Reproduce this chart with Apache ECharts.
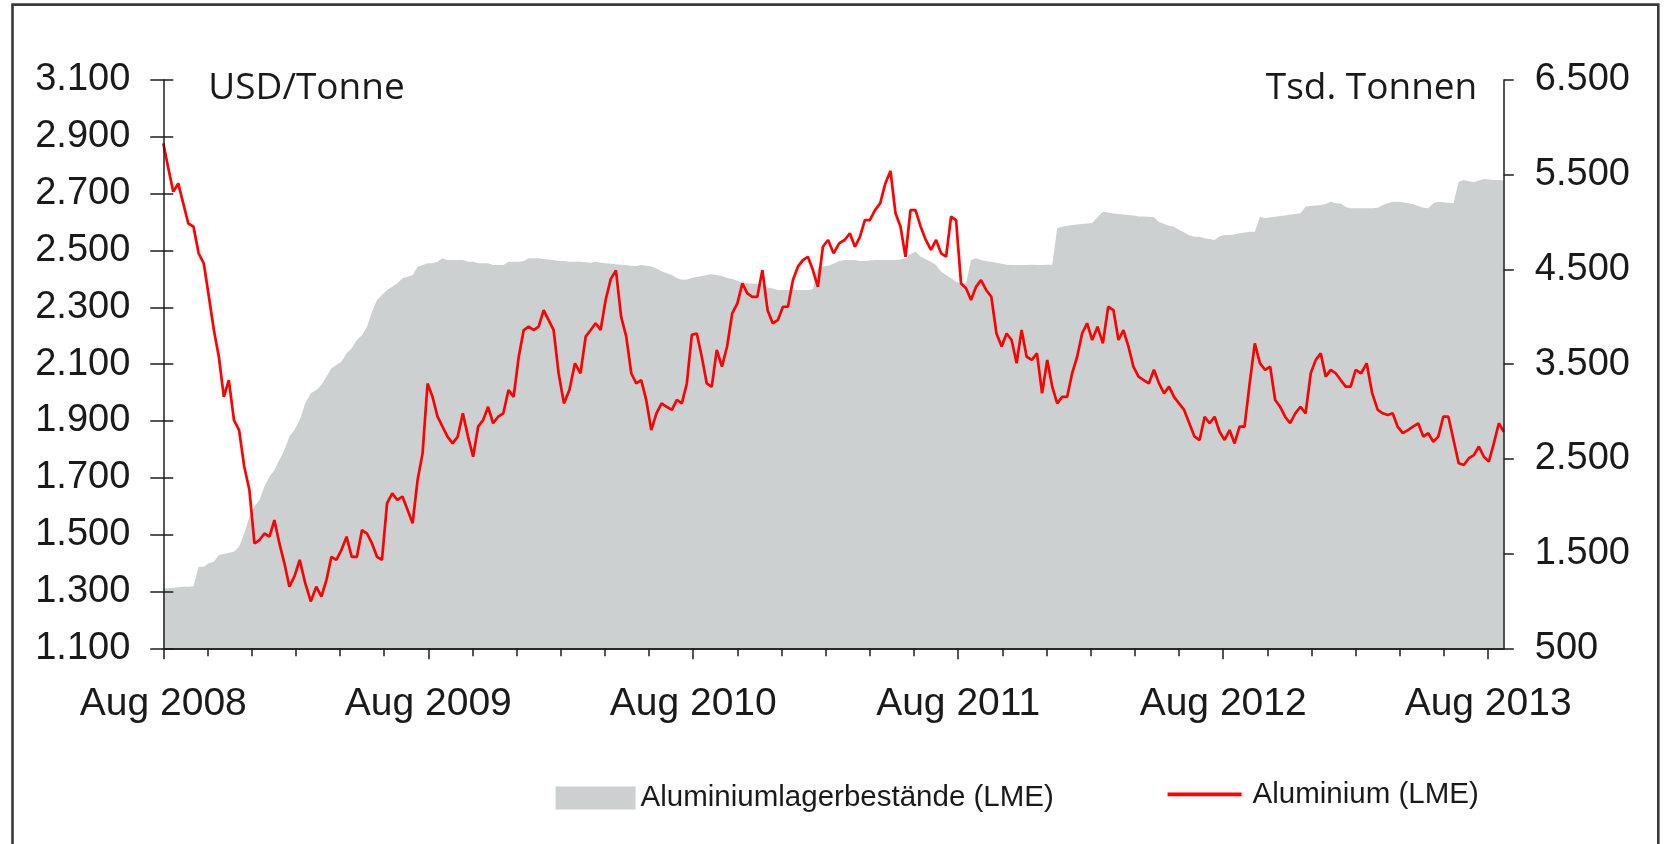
<!DOCTYPE html>
<html>
<head>
<meta charset="utf-8">
<script src="https://cdn.jsdelivr.net/npm/echarts@6/dist/echarts.min.js"></script>
<style>
html,body{margin:0;padding:0;background:#fff;}
#chart{width:1669px;height:844px;}
</style>
</head>
<body>
<div id="chart"></div>
<script>
// ---- data, weekly samples from startDate ----
const startDate = '2008-08-01';
const stepDays = 7;
const yearTickLabels = ['Aug 2008','Aug 2009','Aug 2010','Aug 2011','Aug 2012','Aug 2013'];
const leftUnit = 'USD/Tonne';
const rightUnit = 'Tsd. Tonnen';
const seriesNames = ['Aluminiumlagerbestände (LME)', 'Aluminium (LME)'];

// Aluminium (LME), USD/Tonne
const priceUSD = [
 2877,2790,2707,2736,2666,2595,2584,2490,2455,2337,
 2220,2126,1985,2044,1903,1868,1739,1657,1469,1481,
 1504,1493,1551,1469,1399,1317,1352,1411,1329,1265,
 1317,1282,1340,1422,1411,1446,1493,1422,1422,1516,
 1504,1469,1422,1411,1610,1645,1622,1634,1587,1540,
 1692,1786,2032,1985,1915,1880,1845,1821,1845,1927,
 1845,1774,1880,1903,1950,1892,1915,
 1927,2009,1985,2126,2220,2232,2220,2232,2290,2255,
 2220,2068,1962,2009,2103,2068,2197,2220,2244,2220,
 2326,2400,2430,2267,2197,2068,2032,2044,1974,1868,
 1927,1962,1950,1939,1974,1962,2032,2203,2208,2126,
 2032,2020,2150,2091,2162,2279,2314,2384,2349,2337,
 2337,2431,2290,2244,2255,2302,2302,2396,2443,2466,
 2478,2431,2372,2513,2537,2490,
 2525,2537,2560,2513,2548,2607,2607,2642,2666,2736,
 2780,2631,2584,2478,2642,2642,2584,2537,2502,2537,
 2490,2478,2619,2607,2384,2367,2326,2372,2396,2361,
 2337,2208,2162,2208,2185,2103,2220,2126,2115,2138,
 1997,2115,2021,1962,1985,1985,2068,2126,2208,2244,
 2185,2232,2173,2302,2290,2185,2220,2162,2091,2056,
 2044,2032,2080,2032,1997,2021,
 1985,1962,1939,1892,1845,1833,1915,1892,1915,1862,
 1833,1868,1821,1880,1880,2032,2173,2103,2080,2091,
 1974,1950,1915,1892,1927,1950,1927,2068,2115,2138,
 2056,2080,2068,2044,2021,2021,2080,2068,2103,1997,
 1939,1927,1921,1927,1880,1857,1868,1880,1892,1845,
 1857,1827,1845,1915,1915,1833,1751,1745,1769,1780,
 1810,1774,1757,1821,1892,1862
];

// Aluminiumlagerbestände (LME), Tsd. Tonnen
const stocksKt = [
 1134,1134,1140,1145,1150,1150,1155,1362,1362,1397,
 1415,1485,1496,1510,1520,1573,1714,1890,1996,2066,
 2207,2312,2383,2488,2594,2735,2805,2910,3086,3192,
 3227,3280,3368,3456,3491,3526,3614,3667,3755,3808,
 3896,4054,4177,4230,4283,4318,4353,4406,4424,4441,
 4529,4547,4564,4564,4582,4617,4600,4600,4600,4600,
 4582,4582,4564,4564,4564,4547,4547,
 4547,4582,4582,4582,4590,4617,4617,4617,4610,4605,
 4600,4590,4590,4582,4582,4582,4575,4570,4582,4570,
 4564,4560,4555,4550,4547,4540,4535,4547,4540,4530,
 4510,4480,4460,4440,4410,4390,4395,4410,4420,4430,
 4440,4450,4440,4430,4410,4400,4380,4360,4355,4350,
 4350,4330,4310,4300,4283,4283,4283,4283,4283,4283,
 4283,4290,4520,4530,4540,4560,
 4590,4600,4600,4600,4590,4590,4595,4600,4600,4600,
 4600,4600,4605,4617,4663,4688,4635,4607,4582,4547,
 4476,4441,4406,4371,4353,4353,4600,4617,4600,4590,
 4580,4570,4560,4550,4547,4547,4547,4547,4550,4547,
 4547,4550,4550,4934,4950,4960,4970,4975,4980,4985,
 4990,5050,5110,5100,5090,5085,5080,5075,5070,5060,
 5060,5055,5050,5000,4980,4960,
 4951,4920,4890,4860,4846,4846,4830,4820,4811,4850,
 4863,4863,4870,4881,4890,4899,4899,5057,5040,5050,
 5057,5065,5070,5080,5085,5092,5163,5170,5175,5180,
 5190,5215,5200,5195,5160,5145,5145,5145,5145,5145,
 5150,5180,5200,5215,5215,5210,5200,5190,5170,5150,
 5145,5200,5215,5210,5205,5200,5427,5444,5430,5420,
 5440,5455,5450,5445,5445,5440
];

// ---- helpers ----
const start = new Date(startDate + 'T00:00:00Z');
function sampleDate(i){ return new Date(start.getTime() + i * stepDays * 86400000); }
// position on the axis in months since the first month (Aug 2008)
function monthPos(d){
  const y = d.getUTCFullYear(), m = d.getUTCMonth(), day = d.getUTCDate();
  const dim = new Date(Date.UTC(y, m + 1, 0)).getUTCDate();
  return (y - start.getUTCFullYear()) * 12 + (m - start.getUTCMonth()) + (day - 1) / dim;
}
const xs = priceUSD.map((_, i) => monthPos(sampleDate(i)));
const xMax = xs[xs.length - 1];
const lastLabelPos = (yearTickLabels.length - 1) * 12;
function fmt(v){ return String(v).replace(/\B(?=(\d{3})+(?!\d))/g, '.'); }

// ---- layout ----
const plotLeft = 163.3, plotRight = 1503.8, plotTop = 80, plotBottom = 648.3;
const plotW = plotRight - plotLeft, plotH = plotBottom - plotTop;
const axisColor = '#1e1e1e';
const labelFont = '"Liberation Sans", Arial, sans-serif';
const titleFont = '"Open Sans", "Noto Sans", sans-serif';

const chart = echarts.init(document.getElementById('chart'), null, {renderer: 'canvas'});
const option = {
  animation: false,
  backgroundColor: '#ffffff',
  grid: [
    {left: plotLeft, top: plotTop, width: plotW, height: plotH, outerBoundsMode: 'none'},
    {left: plotLeft, top: plotTop, width: plotW * lastLabelPos / xMax, height: plotH, outerBoundsMode: 'none'}
  ],
  xAxis: [
    {gridIndex: 0, type: 'value', min: 0, max: xMax, z: 5,
     axisLine: {show: true, lineStyle: {color: '#2a2a2a', width: 2.2}},
     axisTick: {show: false}, axisLabel: {show: false}, splitLine: {show: false}},
    {gridIndex: 1, type: 'value', min: 0, max: lastLabelPos, interval: 12, z: 5,
     axisLine: {show: false},
     axisTick: {show: true, length: 11, lineStyle: {color: axisColor, width: 1.5}},
     minorTick: {show: true, splitNumber: 6, length: 8, lineStyle: {color: axisColor, width: 1.5}},
     axisLabel: {show: true, margin: 36, fontSize: 39, color: '#1a1a1a', fontFamily: labelFont,
       formatter: v => yearTickLabels[Math.round(v / 12)] || ''},
     splitLine: {show: false}, minorSplitLine: {show: false}}
  ],
  yAxis: [
    {gridIndex: 0, type: 'value', position: 'left', min: 1100, max: 3100, interval: 200, z: 5,
     axisLine: {show: true, lineStyle: {color: axisColor, width: 1.5}},
     axisTick: {show: true, inside: false, length: 13, lineStyle: {color: axisColor, width: 1.5}},
     axisLabel: {show: true, margin: 33, fontSize: 38, color: '#1a1a1a', fontFamily: labelFont, formatter: fmt},
     splitLine: {show: false}},
    {gridIndex: 0, type: 'value', position: 'left', min: 1100, max: 3100, interval: 200, z: 5,
     axisLine: {show: false},
     axisTick: {show: true, inside: true, length: 10, lineStyle: {color: axisColor, width: 1.5}},
     axisLabel: {show: false}, splitLine: {show: false}},
    {gridIndex: 0, type: 'value', position: 'right', min: 500, max: 6500, interval: 1000, z: 5,
     axisLine: {show: true, lineStyle: {color: axisColor, width: 1.5}},
     axisTick: {show: true, inside: false, length: 10, lineStyle: {color: axisColor, width: 1.5}},
     axisLabel: {show: true, margin: 31, fontSize: 38, color: '#1a1a1a', fontFamily: labelFont, formatter: fmt},
     splitLine: {show: false}},
    {gridIndex: 1, type: 'value', show: false, min: 0, max: 1}
  ],
  legend: [
    {data: [{name: seriesNames[0], icon: 'rect', itemStyle: {color: '#CDD0D1', borderWidth: 0}}],
     left: 555.6, top: 783, itemWidth: 80, itemHeight: 23, padding: 0,
     textStyle: {fontSize: 29.5, color: '#1a1a1a', fontFamily: labelFont}},
    {data: [{name: seriesNames[1], icon: 'rect', itemStyle: {color: '#FF0000', borderWidth: 0}}],
     left: 1167.6, top: 779.4, itemWidth: 74, itemHeight: 3.6, padding: 0,
     textStyle: {fontSize: 29.5, color: '#1a1a1a', fontFamily: labelFont, padding: [0, 0, 0, 6]}}
  ],
  series: [
    {name: seriesNames[0], type: 'line', xAxisIndex: 0, yAxisIndex: 2, z: 1,
     data: stocksKt.map((v, i) => [xs[i], v]),
     symbol: 'none', showSymbol: false, color: '#CDD0D1',
     lineStyle: {width: 0, color: '#CDD0D1'},
     areaStyle: {color: '#CDD0D1', opacity: 1}},
    {name: seriesNames[1], type: 'line', xAxisIndex: 0, yAxisIndex: 0, z: 3,
     data: priceUSD.map((v, i) => [xs[i], v]),
     symbol: 'none', showSymbol: false, color: '#FF0000',
     lineStyle: {width: 2.7, color: '#FF0000'}}
  ],
  graphic: [
    {type: 'rect', silent: true, z: 100,
     shape: {x: 12.5, y: 4.6, width: 1645.8, height: 900},
     style: {fill: 'none', stroke: '#3a3a3a', lineWidth: 2.6}},
    {type: 'text', silent: true, z: 100, x: 208.3, y: 88.4,
     style: {text: leftUnit, font: '37px ' + titleFont, fill: '#1a1a1a', textAlign: 'left', textVerticalAlign: 'middle', verticalAlign: 'middle'}},
    {type: 'text', silent: true, z: 100, x: 1477.3, y: 88.4,
     style: {text: rightUnit, font: '37px ' + titleFont, fill: '#1a1a1a', textAlign: 'right', textVerticalAlign: 'middle', verticalAlign: 'middle'}}
  ]
};
chart.setOption(option);
</script>
</body>
</html>
